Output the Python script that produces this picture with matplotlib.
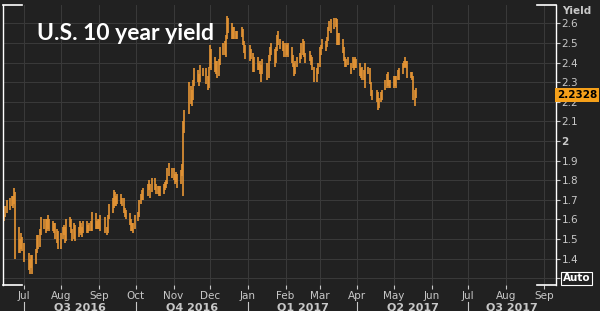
import numpy as np
import pandas as pd
import matplotlib
matplotlib.use("Agg")
import matplotlib.pyplot as plt
import matplotlib.dates as mdates
import matplotlib.transforms as mtrans

# trading days shown (US bond market holidays dropped)
holidays = ["2016-07-04", "2016-09-05", "2016-10-10", "2016-11-11", "2016-11-24",
            "2016-12-26", "2017-01-02", "2017-01-16", "2017-02-20", "2017-04-14"]
days = pd.bdate_range("2016-06-15", "2017-05-19")
days = days[~days.isin(pd.to_datetime(holidays))]

# daily low / high of the 10y yield
low = [
    1.59, 1.61, 1.63, 1.65, 1.67, 1.66, 1.68, 1.40, 1.43, 1.43, 1.45, 1.44,  # Jun
    1.38, 1.34, 1.32, 1.35, 1.32, 1.37, 1.43, 1.45, 1.46, 1.52, 1.55, 1.53, 1.54, 1.55,
    1.54, 1.54, 1.53, 1.50, 1.48, 1.45,  # Jul
    1.45, 1.50, 1.52, 1.48, 1.49, 1.56, 1.53, 1.49, 1.50, 1.49, 1.51, 1.53, 1.52, 1.51,
    1.53, 1.53, 1.53, 1.54, 1.54, 1.54, 1.55, 1.55, 1.55,  # Aug
    1.55, 1.54, 1.53, 1.52, 1.53, 1.60, 1.63, 1.66, 1.67, 1.67, 1.68, 1.68, 1.67, 1.63,
    1.61, 1.60, 1.57, 1.54, 1.54, 1.53, 1.55,  # Sep
    1.59, 1.61, 1.68, 1.70, 1.70, 1.72, 1.75, 1.71, 1.74, 1.75, 1.73, 1.73, 1.72, 1.72,
    1.73, 1.75, 1.76, 1.78, 1.82, 1.81,  # Oct
    1.80, 1.78, 1.79, 1.76, 1.78, 1.82, 1.72, 2.04, 2.14, 2.19, 2.18, 2.21, 2.28, 2.30,
    2.28, 2.30, 2.33, 2.29, 2.26, 2.27,  # Nov
    2.37, 2.36, 2.35, 2.34, 2.32, 2.33, 2.39, 2.44, 2.44, 2.43, 2.52, 2.55, 2.52, 2.52,
    2.52, 2.52, 2.52, 2.53, 2.49, 2.45, 2.42,  # Dec
    2.41, 2.42, 2.35, 2.35, 2.36, 2.36, 2.34, 2.30, 2.34, 2.31, 2.32, 2.41, 2.44, 2.38,
    2.40, 2.46, 2.49, 2.47, 2.46, 2.43,  # Jan
    2.43, 2.44, 2.43, 2.40, 2.38, 2.33, 2.34, 2.38, 2.40, 2.42, 2.44, 2.43, 2.40, 2.41,
    2.39, 2.36, 2.30, 2.30, 2.34,  # Feb
    2.38, 2.44, 2.47, 2.46, 2.48, 2.51, 2.56, 2.55, 2.57, 2.58, 2.49, 2.49, 2.49, 2.45,
    2.41, 2.38, 2.38, 2.39, 2.34, 2.37, 2.36, 2.37, 2.37,  # Mar
    2.33, 2.32, 2.31, 2.31, 2.27, 2.34, 2.29, 2.23, 2.21, 2.20, 2.16, 2.17, 2.20, 2.21,
    2.26, 2.27, 2.28, 2.27, 2.27,  # Apr
    2.27, 2.28, 2.27, 2.31, 2.31, 2.34, 2.37, 2.38, 2.37, 2.32, 2.32, 2.31, 2.21, 2.18,
    2.22,  # May
]
high = [
    1.62, 1.67, 1.70, 1.71, 1.72, 1.72, 1.76, 1.74, 1.56, 1.50, 1.53, 1.51,  # Jun
    1.48, 1.43, 1.40, 1.42, 1.42, 1.45, 1.52, 1.52, 1.55, 1.61, 1.60, 1.60, 1.60, 1.62,
    1.60, 1.59, 1.58, 1.58, 1.55, 1.54,  # Jul
    1.53, 1.56, 1.57, 1.56, 1.60, 1.61, 1.60, 1.55, 1.58, 1.57, 1.56, 1.59, 1.58, 1.56,
    1.59, 1.59, 1.57, 1.58, 1.59, 1.64, 1.63, 1.59, 1.60,  # Aug
    1.60, 1.62, 1.61, 1.56, 1.62, 1.68, 1.71, 1.75, 1.74, 1.72, 1.73, 1.73, 1.71, 1.71,
    1.66, 1.65, 1.63, 1.60, 1.58, 1.58, 1.62,  # Sep
    1.64, 1.70, 1.73, 1.75, 1.76, 1.78, 1.80, 1.78, 1.81, 1.81, 1.78, 1.77, 1.77, 1.77,
    1.78, 1.79, 1.80, 1.86, 1.89, 1.86,  # Oct
    1.86, 1.83, 1.84, 1.83, 1.85, 1.88, 2.10, 2.16, 2.30, 2.28, 2.26, 2.31, 2.37, 2.36,
    2.34, 2.39, 2.37, 2.37, 2.33, 2.38,  # Nov
    2.49, 2.47, 2.43, 2.41, 2.41, 2.42, 2.48, 2.50, 2.51, 2.54, 2.64, 2.63, 2.60, 2.58,
    2.58, 2.56, 2.56, 2.58, 2.57, 2.51, 2.49,  # Dec
    2.49, 2.47, 2.45, 2.43, 2.43, 2.40, 2.41, 2.39, 2.42, 2.40, 2.44, 2.48, 2.50, 2.47,
    2.48, 2.54, 2.56, 2.52, 2.51, 2.50,  # Jan
    2.50, 2.49, 2.50, 2.48, 2.44, 2.40, 2.41, 2.43, 2.45, 2.50, 2.52, 2.51, 2.45, 2.46,
    2.44, 2.43, 2.38, 2.37, 2.40,  # Feb
    2.48, 2.49, 2.52, 2.51, 2.53, 2.58, 2.61, 2.62, 2.63, 2.63, 2.62, 2.55, 2.55, 2.52,
    2.48, 2.43, 2.42, 2.43, 2.40, 2.43, 2.42, 2.43, 2.42,  # Mar
    2.40, 2.37, 2.38, 2.36, 2.40, 2.38, 2.37, 2.30, 2.26, 2.26, 2.25, 2.22, 2.25, 2.26,
    2.31, 2.34, 2.35, 2.31, 2.31,  # Apr
    2.33, 2.33, 2.33, 2.36, 2.37, 2.40, 2.41, 2.43, 2.41, 2.41, 2.35, 2.35, 2.33, 2.26,
    2.27,  # May
]
last_price = 2.2328

yticks = [1.3, 1.4, 1.5, 1.6, 1.7, 1.8, 1.9, 2.0, 2.1, 2.2, 2.3, 2.4, 2.5, 2.6]
quarters = [("Q3 2016", "2016-07-01", "2016-10-01"),
            ("Q4 2016", "2016-10-01", "2017-01-01"),
            ("Q1 2017", "2017-01-01", "2017-04-01"),
            ("Q2 2017", "2017-04-01", "2017-07-01"),
            ("Q3 2017", "2017-07-01", "2017-10-01")]

bg = "#212121"
txt = "#c8c8c8"
bar_col = "#e59535"

fig = plt.figure(figsize=(6, 3.11), dpi=100, facecolor=bg)
ax = fig.add_axes([3 / 600, 26 / 311, 553 / 600, 280 / 311], facecolor=bg)

ax.vlines(days, low, high, colors=bar_col, linewidth=1.2)

x0 = pd.Timestamp("2016-06-14")
x1 = pd.Timestamp("2017-09-11")
ax.set_xlim(x0, x1)
ax.set_ylim(1.265, 2.694)

ax.xaxis.set_major_locator(mdates.MonthLocator())
ax.xaxis.set_major_formatter(mdates.DateFormatter("%b"))
ax.tick_params(axis="x", direction="out", length=3, width=0.8, color=txt,
               labelcolor=txt, labelsize=7.5, pad=1)

ax.yaxis.tick_right()
ax.set_yticks(yticks)
labels = []
for v in yticks:
    if abs(v - 1.3) < 1e-9:
        labels.append("")
    elif abs(v - 2.0) < 1e-9:
        labels.append("2")
    else:
        labels.append(f"{v:.1f}")
ax.set_yticklabels(labels)
for t in ax.get_yticklabels():
    if t.get_text() == "2":
        t.set_fontweight("bold")
ax.tick_params(axis="y", direction="out", length=3, width=0.8, color=txt,
               labelcolor=txt, labelsize=7.5, pad=1)

ax.grid(True, color="#3a3a3a", linewidth=0.7)
ax.set_axisbelow(True)

for s in ["top", "bottom"]:
    ax.spines[s].set_visible(False)
for s in ["left", "right"]:
    ax.spines[s].set_color("white")
    ax.spines[s].set_linewidth(1.0)
# white corner marks on top and bottom edges
seg = 0.034
for yy in [0, 1]:
    ax.plot([0, seg], [yy, yy], transform=ax.transAxes, color="white", lw=1.2, clip_on=False)
    ax.plot([1 - seg, 1], [yy, yy], transform=ax.transAxes, color="white", lw=1.2, clip_on=False)

# quarter row
xt = ax.get_xaxis_transform()
for name, a, b in quarters:
    a = pd.Timestamp(a)
    b = min(pd.Timestamp(b), x1)
    mid = a + (b - a) / 2
    ax.text(mid, -0.082, name, transform=xt, ha="center", va="center",
            fontsize=8, fontweight="bold", color=txt, clip_on=False)
    if a > x0:
        ax.plot([a, a], [-0.06, -0.11], transform=xt, color=txt, lw=0.8, clip_on=False)

# right side labels
fig.text(562 / 600, 1 - 11 / 311, "Yield", fontsize=7.5, fontweight="bold",
         color=txt, ha="left", va="center")
yt = mtrans.blended_transform_factory(ax.transAxes, ax.transData)
ax.text(1.012, 1.3, "Auto", transform=yt, fontsize=7.5, fontweight="bold",
        color="white", ha="left", va="center",
        bbox=dict(boxstyle="square,pad=0.15", facecolor="none", edgecolor="white", lw=0.8))
ax.text(1.002, last_price, f"{last_price:.4f}", transform=yt, fontsize=7.5,
        fontweight="bold", color="black", ha="left", va="center",
        bbox=dict(boxstyle="square,pad=0.2", facecolor="#f5a01a", edgecolor="none"))

fig.text(37 / 600, 1 - 34 / 311, "U.S. 10 year yield", fontsize=16.5, fontweight="bold",
         family="Lato", color="white", ha="left", va="center")

fig.savefig("out.png", dpi=100, facecolor=bg)
